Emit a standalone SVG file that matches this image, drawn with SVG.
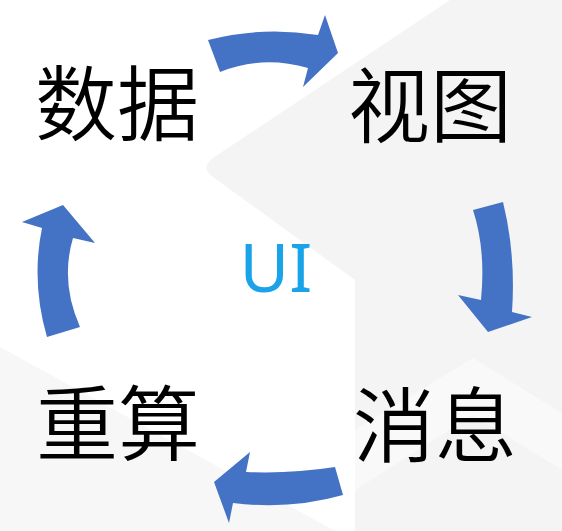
<svg xmlns="http://www.w3.org/2000/svg" width="562" height="531" viewBox="0 0 562 531">
  <style>
    .lbl { font-family: "Noto Sans CJK SC", "Noto Sans", sans-serif; font-size: 82px; font-weight: 350; fill: #000; text-anchor: middle; }
    .ui { font-family: "Noto Sans", "Open Sans", sans-serif; font-size: 68px; fill: #1aa3e8; text-anchor: middle; }
    .arrow { fill: #4472c4; }
  </style>
  <rect width="562" height="531" fill="#ffffff"/>
  <g id="background">
    <path d="M562,0 L450,0 L213,158 Q200,168 213,177 L355,280 L355,531 L562,531 Z" fill="#f4f4f4"/>
    <path d="M355,430 L473,358 L562,413 L562,470 L473,415 L355,490 Z" fill="#f9f9f9"/>
    <path d="M0,347 L335,531 L0,531 Z" fill="#f7f7f7"/>
  </g>
  <g id="connectors">
    <path class="arrow" d="M208,40 Q262,26 318,35 L325,15 L338,53 L303,87 L308,68 Q262,55 220,72 Z"/>
    <path class="arrow" d="M473,210 L503,202 Q516,255 512,312 L532,317 L488,332 L458,295 L481,300 Q486,250 473,210 Z"/>
    <path class="arrow" d="M335,467 L343,495 Q290,510 233,503 L229,523 L214,482 L250,452 L246,472 Q290,474 335,467 Z"/>
    <path class="arrow" d="M47,337 L80,327 Q60,282 73,238 L95,243 L63,205 L22,222 L42,228 Q31,282 47,337 Z"/>
  </g>
  <g id="node-data"><text class="lbl" x="117" y="134">数据</text></g>
  <g id="node-view"><text class="lbl" x="430" y="136">视图</text></g>
  <g id="node-message"><text class="lbl" x="435" y="456">消息</text></g>
  <g id="node-recompute"><text class="lbl" x="118" y="454">重算</text></g>
  <g id="node-ui"><text class="ui" x="276" y="292">UI</text></g>
</svg>
